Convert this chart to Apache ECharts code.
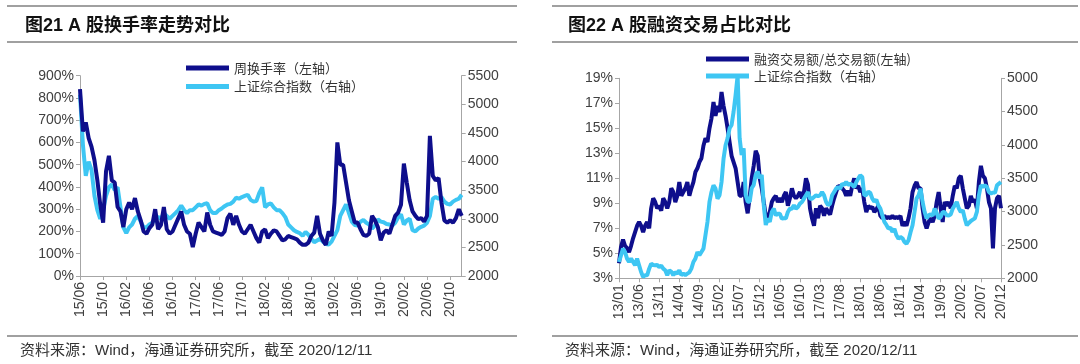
<!DOCTYPE html>
<html><head><meta charset="utf-8">
<script src="https://cdn.jsdelivr.net/npm/echarts@6/dist/echarts.min.js"></script>
<style>html,body{margin:0;padding:0;background:#fff}#c{width:1080px;height:364px}</style>
</head><body><div id="c"></div>
<script>
// ---------- Left chart: weekly turnover vs SSE index (half-month samples, 2015/06 - 2020/12) ----------
const leftTickLabels = ['15/06','15/10','16/02','16/06','16/10','17/02','17/06','17/10','18/02','18/06','18/10','19/02','19/06','19/10','20/02','20/06','20/10'];
const leftTurnover = [
840,650,690,620,580,520,430,320,240,470,
540,430,420,310,290,220,300,330,300,350,
290,250,200,190,215,230,300,210,230,310,
210,190,200,230,260,290,230,200,190,130,
190,240,220,200,285,230,200,195,190,185,
200,260,280,230,270,230,200,190,210,230,
200,170,150,200,210,170,190,205,200,180,
160,165,180,175,170,165,150,140,140,150,
180,195,270,190,160,140,200,180,330,600,
500,500,420,340,290,240,240,210,185,180,
190,270,250,220,160,195,205,190,230,270,
285,320,505,420,340,290,270,255,260,245,
270,630,450,430,440,330,250,240,250,240,
260,300,270];
const leftIndex = [
5170,4300,3750,4000,3850,3400,3150,3000,3150,3400,
3550,3600,3500,3550,3200,2850,2750,2850,2900,3000,
3050,2950,2850,2850,2900,2930,3000,3030,3000,3100,
3050,3000,3050,3100,3150,3230,3150,3100,3150,3150,
3200,3250,3230,3260,3270,3150,3100,3100,3150,3180,
3220,3250,3260,3300,3370,3350,3380,3400,3420,3330,
3300,3310,3450,3550,3200,3250,3270,3200,3150,3150,
3100,3030,2900,2850,2800,2770,2750,2700,2770,2720,
2650,2590,2620,2650,2600,2560,2550,2600,2700,2800,
3050,3150,3250,3100,2950,2890,2880,2950,2980,2930,
2900,2830,2880,2990,2950,2940,2910,2900,2880,2930,
3020,3080,2900,2970,3000,2800,2780,2830,2860,2880,
2930,3050,3350,3380,3350,3380,3300,3260,3250,3300,
3330,3350,3420];

// ---------- Right chart: margin trading share vs SSE index (half-month samples, 2013/01 - 2020/12) ----------
const rightTickLabels = ['13/01','13/06','13/11','14/04','14/09','15/02','15/07','15/12','16/05','16/10','17/03','17/08','18/01','18/06','18/11','19/04','19/09','20/02','20/07','20/12'];
const rightMargin = [
4.2,5.5,6.1,5.6,5.4,5.1,5.6,6.2,6.7,7.2,
7.5,7.2,6.7,7.2,7.5,7.0,8.6,9.4,9.1,8.6,
8.8,8.4,9.4,9.1,8.6,9.1,10.2,9.9,9.1,9.6,
10.7,9.6,9.9,10.2,10.7,9.6,10.2,10.7,11.5,11.8,
12.3,12.6,13.6,14.2,13.9,15.0,15.8,17.1,16.0,16.8,
16.3,17.9,16.8,16.0,15.0,13.9,12.8,12.3,11.8,10.7,
9.6,9.6,10.7,9.1,8.2,9.5,11.0,12.0,13.2,12.8,
11.0,10.2,9.1,8.0,7.8,8.3,9.1,9.4,9.6,9.1,
9.4,9.1,9.6,9.9,8.8,9.4,10.2,9.6,9.4,9.6,
9.9,9.4,9.9,11.0,10.5,8.6,7.8,7.2,8.6,7.8,
8.8,8.6,8.0,8.6,8.3,8.1,8.8,9.4,9.9,10.4,
10.3,10.2,10.0,9.6,10.0,9.6,10.4,11.0,10.2,10.4,
9.9,10.2,9.1,8.3,8.8,8.6,8.7,8.3,8.5,8.8,
8.0,7.8,8.0,7.8,7.9,7.8,8.0,7.8,7.9,7.8,
8.0,7.2,7.5,7.2,7.8,8.6,9.9,10.4,10.7,10.2,
10.2,8.6,7.5,7.0,7.5,7.8,7.5,8.0,9.1,9.9,
8.6,7.5,9.1,8.8,9.1,8.6,9.6,10.4,10.2,11.0,
11.2,10.2,9.4,8.6,8.8,9.6,9.1,9.3,8.6,10.7,
12.0,11.2,11.0,10.2,9.1,8.6,5.4,8.6,9.4,9.6,
8.6];
const rightIndex = [
2245,2345,2445,2395,2295,2245,2295,2245,2195,2295,
2195,2095,2020,2045,2045,2145,2220,2200,2195,2200,
2170,2190,2145,2120,2045,2120,2100,2045,2095,2070,
2120,2050,2070,2050,2070,2090,2145,2245,2295,2395,
2345,2395,2445,2645,2845,3145,3295,3395,3345,3195,
3245,3445,3795,3995,4100,4250,4300,4500,4750,5040,
4100,3850,3950,3250,3150,3150,3350,3400,3550,3600,
3500,3550,3100,2800,2895,2845,2995,3045,2945,2970,
2970,2895,2900,2900,2995,3045,3045,3095,3045,3070,
3120,3145,3195,3245,3295,3195,3195,3220,3245,3230,
3245,3295,3245,3145,3095,3120,3245,3295,3345,3370,
3345,3420,3400,3445,3400,3420,3400,3370,3440,3495,
3545,3520,3245,3250,3300,3280,3195,3150,3180,3095,
3045,2945,2845,2800,2745,2760,2695,2740,2645,2595,
2620,2600,2545,2520,2570,2690,2795,2995,3195,3245,
3345,3145,2995,2900,2945,2960,2940,3045,2980,2895,
2920,2995,2990,2945,2940,2960,3045,3095,3145,3050,
2995,3020,2895,2795,2830,2860,2880,2900,2995,3245,
3395,3370,3395,3370,3295,3270,3290,3280,3395,3420,
3445];

// half-month category keys "YY/MM|0" (first half) or "YY/MM|1" (second half)
function halfMonthCats(year, month, n) {
  const out = [];
  for (let i = 0; i < n; i++) {
    const t = (month - 1) + Math.floor(i / 2);
    const y = year + Math.floor(t / 12), m = t % 12 + 1;
    out.push(String(y % 100).padStart(2, '0') + '/' + String(m).padStart(2, '0') + '|' + (i % 2));
  }
  return out;
}
const leftCats = halfMonthCats(2015, 6, leftTurnover.length);
const rightCats = halfMonthCats(2013, 1, rightMargin.length);

const DARK = '#0e0e8c', LIGHT = '#3ec6f3';
const AXIS = '#a6a6a6', LBL = '#404040';
const FONT = '"Liberation Sans", Arial, "Noto Sans CJK SC", sans-serif';
const tickFn = list => (idx, val) => val.endsWith('|0') && list.indexOf(val.split('|')[0]) >= 0;

function xAx(grid, cats, ticks) {
  return {
    type: 'category', gridIndex: grid, data: cats, boundaryGap: false,
    axisLine: { show: true, lineStyle: { color: AXIS, width: 1 } },
    axisTick: { show: true, interval: tickFn(ticks), length: 4, lineStyle: { color: AXIS } },
    axisLabel: { interval: tickFn(ticks), rotate: 90, formatter: v => v.split('|')[0],
      fontSize: 14, color: LBL, fontFamily: FONT, margin: 6 },
    splitLine: { show: false }
  };
}
function yAx(grid, pos, min, max, step, fmt) {
  return {
    type: 'value', gridIndex: grid, position: pos, min: min, max: max, interval: step,
    axisLine: { show: true, lineStyle: { color: AXIS, width: 1 } },
    axisTick: { show: true, length: 4, lineStyle: { color: AXIS } },
    axisLabel: { formatter: fmt, fontSize: 14, color: LBL, fontFamily: FONT, margin: 6 },
    splitLine: { show: false }
  };
}
function legend(name, left, top) {
  return {
    data: [name], left: left, top: top, orient: 'vertical', icon: 'rect',
    itemWidth: 43, itemHeight: 5, itemGap: 0, selectedMode: false, padding: 0,
    textStyle: { fontSize: 13, color: '#333', fontFamily: '"Noto Sans CJK SC", sans-serif' }
  };
}
function line(name, xi, yi, data, color, z) {
  return { name: name, type: 'line', xAxisIndex: xi, yAxisIndex: yi, data: data,
    symbol: 'none', showSymbol: false, z: z, clip: false,
    lineStyle: { width: 4, color: color }, itemStyle: { color: color } };
}
function hline(x1, x2, y) {
  return { type: 'line', shape: { x1: x1, y1: y, x2: x2, y2: y },
    style: { stroke: '#808080', lineWidth: 1.5 }, silent: true };
}
const footer = '资料来源：Wind，海通证券研究所，截至 2020/12/11';
const pct = v => v + '%';
const plain = v => String(v);

const chart = echarts.init(document.getElementById('c'), null, { renderer: 'canvas' });
chart.setOption({
  animation: false,
  backgroundColor: '#fff',
  title: [
    { text: '图21 A 股换手率走势对比', left: 20, top: 12,
      textStyle: { fontSize: 18, fontWeight: 'bold', color: '#111', fontFamily: FONT } },
    { text: '图22 A 股融资交易占比对比', left: 563, top: 12,
      textStyle: { fontSize: 18, fontWeight: 'bold', color: '#111', fontFamily: FONT } }
  ],
  graphic: [
    hline(7, 517, 6), hline(7, 517, 42), hline(7, 517, 336),
    hline(552, 1078, 6), hline(552, 1078, 42), hline(552, 1078, 336),
    { type: 'text', left: 20, top: 343, style: { text: footer, fill: '#333', font: '15px ' + FONT } },
    { type: 'text', left: 565, top: 343, style: { text: footer, fill: '#333', font: '15px ' + FONT } }
  ],
  legend: [
    legend('周换手率（左轴）', 186, 61.5),
    legend('上证综合指数（右轴）', 186, 80),
    legend('融资交易额/总交易额(左轴)', 706, 52.5),
    legend('上证综合指数（右轴）', 706, 69.5)
  ],
  grid: [
    { left: 80, top: 75.7, width: 381.7, height: 200.3, outerBoundsMode: 'none', containLabel: false },
    { left: 619, top: 78.3, width: 382, height: 200, outerBoundsMode: 'none', containLabel: false }
  ],
  xAxis: [xAx(0, leftCats, leftTickLabels), xAx(1, rightCats, rightTickLabels)],
  yAxis: [
    yAx(0, 'left', 0, 900, 100, pct),
    yAx(0, 'right', 2000, 5500, 500, plain),
    yAx(1, 'left', 3, 19, 2, pct),
    yAx(1, 'right', 2000, 5000, 500, plain)
  ],
  series: [
    line('上证综合指数（右轴）', 0, 1, leftIndex, LIGHT, 2),
    line('周换手率（左轴）', 0, 0, leftTurnover, DARK, 3),
    line('融资交易额/总交易额(左轴)', 1, 2, rightMargin, DARK, 2),
    line('上证综合指数（右轴）', 1, 3, rightIndex, LIGHT, 3)
  ]
});
</script></body></html>
